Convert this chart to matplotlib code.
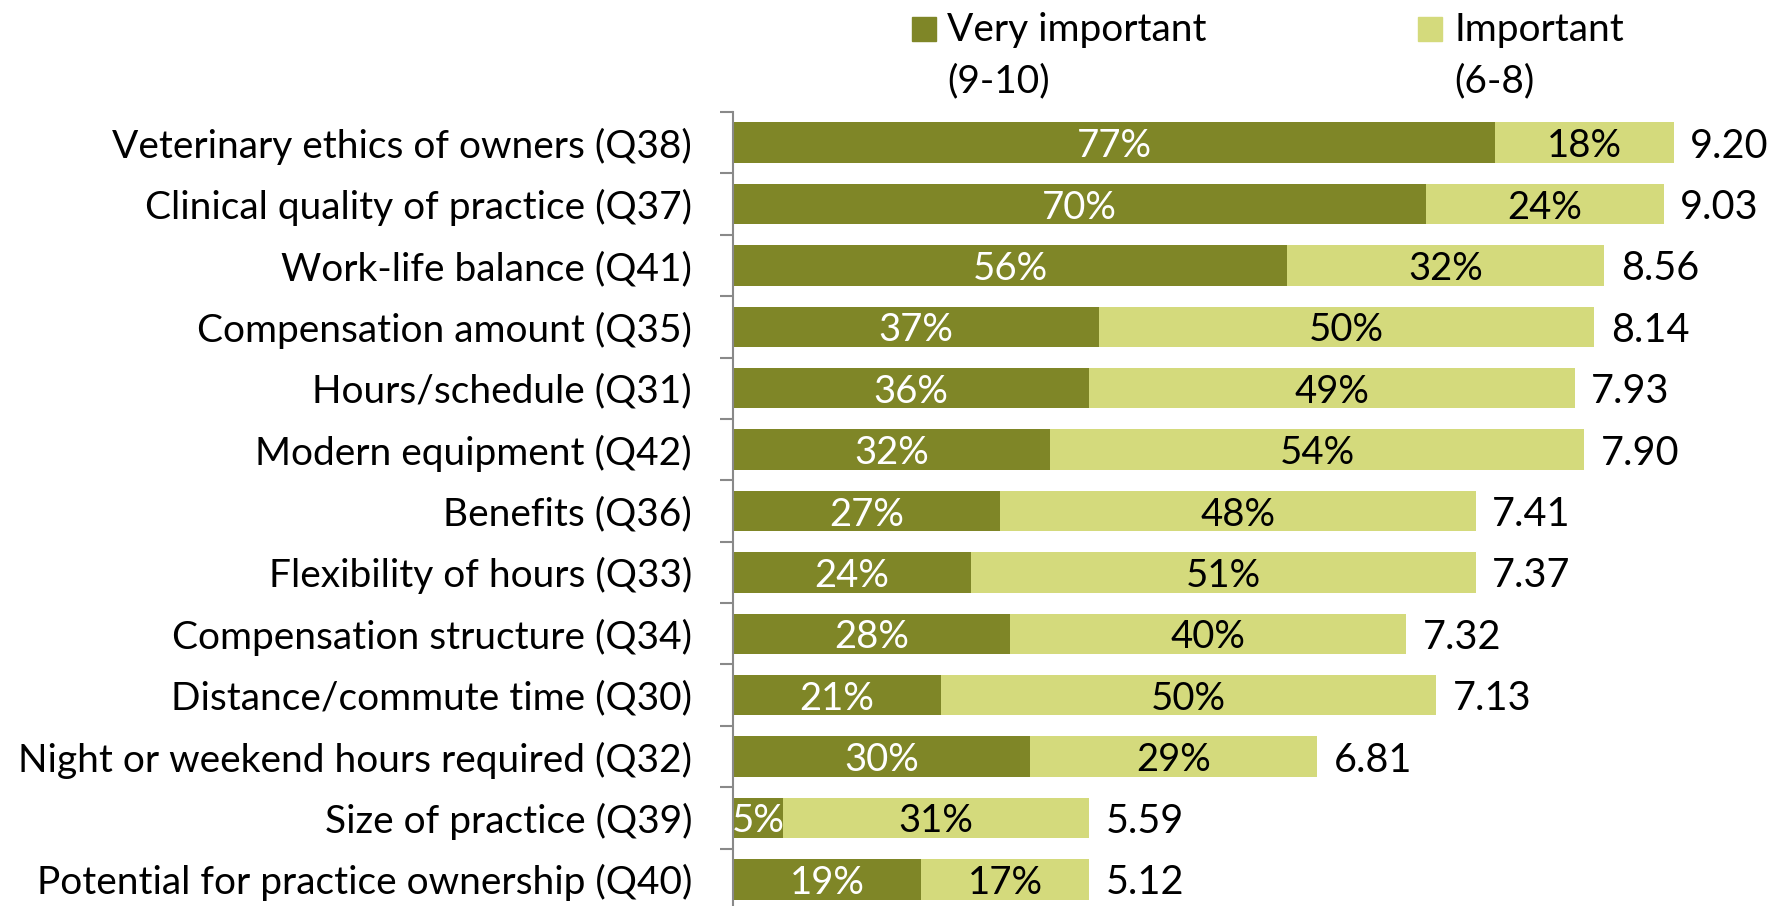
import matplotlib
matplotlib.use('Agg')
import matplotlib.pyplot as plt
from matplotlib.patches import Rectangle

categories = [
    "Veterinary ethics of owners (Q38)",
    "Clinical quality of practice (Q37)",
    "Work-life balance (Q41)",
    "Compensation amount (Q35)",
    "Hours/schedule (Q31)",
    "Modern equipment (Q42)",
    "Benefits (Q36)",
    "Flexibility of hours (Q33)",
    "Compensation structure (Q34)",
    "Distance/commute time (Q30)",
    "Night or weekend hours required (Q32)",
    "Size of practice (Q39)",
    "Potential for practice ownership (Q40)",
]
very_important = [77, 70, 56, 37, 36, 32, 27, 24, 28, 21, 30, 5, 19]
important = [18, 24, 32, 50, 49, 54, 48, 51, 40, 50, 29, 31, 17]
mean_scores = [9.20, 9.03, 8.56, 8.14, 7.93, 7.90, 7.41, 7.37, 7.32, 7.13, 6.81, 5.59, 5.12]
legend_labels = [("Very important", "(9-10)"), ("Important", "(6-8)")]

DARK = '#7F8627'
LIGHT = '#D4DA7C'
GRAY = '#898989'

plt.rcParams['font.family'] = ['Lato', 'DejaVu Sans']
FS = 28
FS_IN = 27.5
FS_VAL = 28.5

W, H = 1779, 906
fig = plt.figure(figsize=(W / 100, H / 100), dpi=100)
ax = fig.add_axes([733 / W, -4 / H, 1 - 733 / W, 798 / H])

n = len(categories)
y = list(range(n))
ax.barh(y, very_important, height=0.66, color=DARK)
ax.barh(y, important, left=very_important, height=0.66, color=LIGHT)

ax.set_xlim(0, (W - 733) / 9.9)
ax.set_ylim(n - 0.5, -0.5)

for s in ['top', 'right', 'bottom']:
    ax.spines[s].set_visible(False)
ax.spines['left'].set_color(GRAY)
ax.spines['left'].set_linewidth(1.5)
ax.set_xticks([])
ax.set_yticks(y)
ax.set_yticklabels(categories, fontsize=FS)
ax.tick_params(axis='y', which='major', length=0, pad=29.5)
ax.set_yticks([i - 0.5 for i in range(n + 1)], minor=True)
ax.tick_params(axis='y', which='minor', length=9.4, width=1.5, color=GRAY)

for i in range(n):
    v, m = very_important[i], important[i]
    ax.text(v / 2, i, f"{v}%", ha='center', va='center_baseline', color='white', fontsize=FS_IN)
    ax.text(v + m / 2, i, f"{m}%", ha='center', va='center_baseline', color='black', fontsize=FS_IN)
    ax.annotate(f"{mean_scores[i]:.2f}", xy=(v + m, i), xytext=(12, 0),
                textcoords='offset points', ha='left', va='center_baseline', fontsize=FS_VAL)

# legend
for (l1, l2), color, sx, tx in zip(legend_labels, [DARK, LIGHT], [912, 1418], [947, 1454]):
    fig.patches.append(Rectangle((sx / W, 1 - 41 / H), 24 / W, 24 / H,
                                 transform=fig.transFigure, color=color))
    fig.text(tx / W, 1 - 41 / H, l1, fontsize=FS, va='baseline', ha='left')
    fig.text(tx / W, 1 - 92 / H, l2, fontsize=FS, va='baseline', ha='left')

fig.savefig('out.png', dpi=100)
